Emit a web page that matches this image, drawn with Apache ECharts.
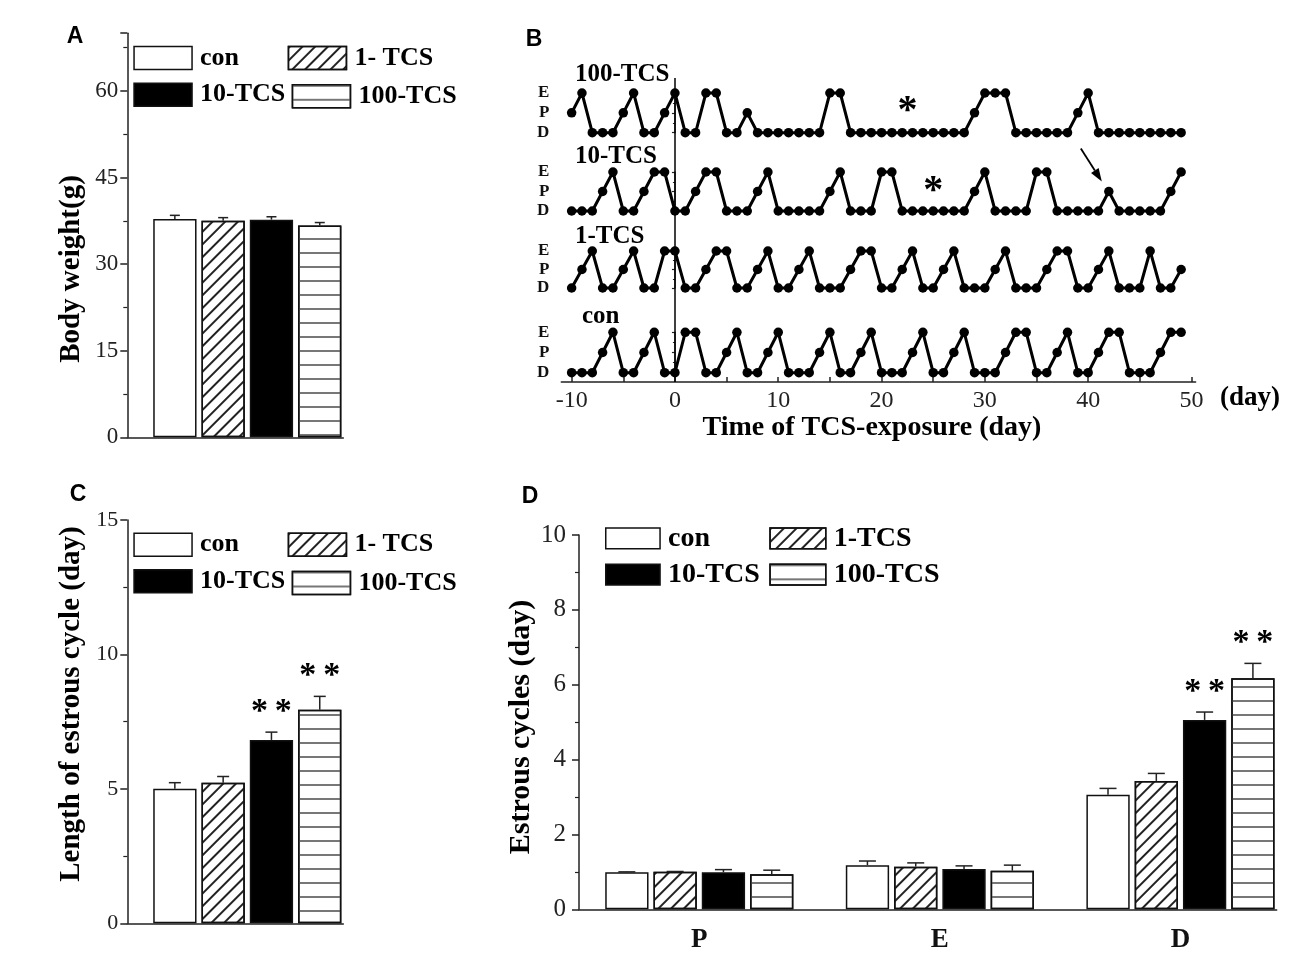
<!DOCTYPE html>
<html>
<head>
<meta charset="utf-8">
<title>TCS exposure and estrous cycle</title>
<script src="https://cdn.jsdelivr.net/npm/echarts@6/dist/echarts.min.js"></script>
<style>
  html, body { margin: 0; padding: 0; background: #fff; }
  #main { width: 1300px; height: 972px; }
</style>
</head>
<body>
<div id="main"></div>
<script>
// ---- data ----
var groupsAC = ['con', '1- TCS', '10-TCS', '100-TCS'];
var groupsD = ['con', '1-TCS', '10-TCS', '100-TCS'];

// A: body weight (g)
var weight = [37.8, 37.5, 37.7, 36.7];
var weightErr = [0.65, 0.55, 0.5, 0.5];

// C: length of estrous cycle (day)
var cycleLen = [5.0, 5.23, 6.82, 7.94];
var cycleLenErr = [0.23, 0.23, 0.29, 0.5];
var cycleLenSig = ['', '', '**', '**'];

// D: estrous cycles (day) per stage
var stages = ['P', 'E', 'D'];
var stageCon = [0.99, 1.18, 3.06];
var stage1 = [1.0, 1.14, 3.43];
var stage10 = [0.99, 1.08, 5.06];
var stage100 = [0.935, 1.03, 6.17];
var stageConErr = [0.01, 0.11, 0.17];
var stage1Err = [0.01, 0.1, 0.2];
var stage10Err = [0.07, 0.08, 0.21];
var stage100Err = [0.11, 0.15, 0.4];
var stage10Sig = ['', '', '**'];
var stage100Sig = ['', '', '**'];

// B: daily smear stage, day -10 .. 49
var days = [-10, -9, -8, -7, -6, -5, -4, -3, -2, -1,
            0, 1, 2, 3, 4, 5, 6, 7, 8, 9,
            10, 11, 12, 13, 14, 15, 16, 17, 18, 19,
            20, 21, 22, 23, 24, 25, 26, 27, 28, 29,
            30, 31, 32, 33, 34, 35, 36, 37, 38, 39,
            40, 41, 42, 43, 44, 45, 46, 47, 48, 49];
var stageLevels = ['D', 'P', 'E'];
var smear100 = 'PEDDDPEDDP EDDEEDDPDD DDDDDEEDDD DDDDDDDDDP EEEDDDDDDP EDDDDDDDDD';
var smear10  = 'DDDPEDDPEE DDPEEDDDPE DDDDDPEDDD EEDDDDDDDP EDDDDEEDDD DDPDDDDDPE';
var smear1   = 'DPEDDPEDDE EDDPEEDDPE DDPEDDDPEE DDPEDDPEDD DPEDDDPEED DPEDDDEDDP';
var smearCon = 'DDDPEDDPED DEEDDPEDDP EDDDPEDDPE DDDPEDDPED DDPEEDDPED DPEEDDDPEE';
var rowNames = ['100-TCS', '10-TCS', '1-TCS', 'con'];
var rowSmears = [smear100, smear10, smear1, smearCon];
// "*" marks and the arrow in B: [row, day, level]
var starMarks = [[0, 22.5, 1.4], [1, 25, 1.35]];
var arrowMark = [1, 42, 1];

// ---- style / layout ----
var SERIF = 'Liberation Serif';
var SANS = 'Liberation Sans';
var INK = '#111';
var barW = 43.3, barGapPx = 5;
var fills = [
  { color: '#fff' },
  { color: '#fff', decal: { symbol: 'rect', symbolSize: 1, dashArrayX: [1, 0], dashArrayY: [1.5, 6.5],
      rotation: -Math.PI / 4, color: '#222', backgroundColor: 'rgba(0,0,0,0)' } },
  { color: '#000' },
  { color: '#fff', decal: { symbol: 'rect', symbolSize: 1, dashArrayX: [1, 0], dashArrayY: [1.2, 12],
      rotation: 0, color: '#777', backgroundColor: 'rgba(0,0,0,0)' } }
];
// B rows: pixel y of E and D levels
var rowBox = [[93, 132.7], [172, 211], [251, 288], [332.3, 372.7]];
var bLeft = 561.3, bWidth = 634.3, bMin = -11, bMax = 50.4;

var chart = echarts.init(document.getElementById('main'), null, { renderer: 'canvas' });

function axisLineStyle() { return { show: true, lineStyle: { color: '#222', width: 1.5 } }; }

function valueY(gi, min, max, interval, fs, margin, hideAbove) {
  return {
    gridIndex: gi, type: 'value', min: min, max: max, interval: interval,
    axisLine: axisLineStyle(),
    axisTick: { show: true, length: 7, lineStyle: { color: '#222', width: 1.5 } },
    minorTick: { show: true, splitNumber: 2, length: 4, lineStyle: { color: '#222', width: 1.2 } },
    splitLine: { show: false },
    axisLabel: { fontFamily: SERIF, fontSize: fs, color: '#222', margin: margin,
      formatter: function (v) { return (hideAbove != null && v > hideAbove) ? '' : String(v); } }
  };
}

function plainX(gi, min, max) {
  return { gridIndex: gi, type: 'value', min: min, max: max,
    axisLine: axisLineStyle(), axisTick: { show: false }, axisLabel: { show: false },
    splitLine: { show: false } };
}

function errBars(xi, rows, capW) {
  // rows: [x, value, err, slot, sig]
  return {
    type: 'custom', xAxisIndex: xi, yAxisIndex: xi, silent: true, z: 5,
    data: rows.map(function (r) { return [r[0], r[1], r[2]]; }),
    renderItem: function (params, api) {
      var r = rows[params.dataIndex];
      var dx = (r[3] - 1.5) * (barW + barGapPx);
      var base = api.coord([api.value(0), api.value(1)]);
      var top = api.coord([api.value(0), api.value(1) + api.value(2)]);
      var x = base[0] + dx;
      var kids = [
        { type: 'line', shape: { x1: x, y1: base[1], x2: x, y2: top[1] }, style: { stroke: '#222', lineWidth: 1.5 } },
        { type: 'line', shape: { x1: x - capW / 2, y1: top[1], x2: x + capW / 2, y2: top[1] }, style: { stroke: '#222', lineWidth: 1.5 } }
      ];
      if (r[4]) {
        kids.push({ type: 'text', x: x, y: top[1] - 20,
          style: { text: r[4].split('').join('\u2009'), font: 'bold 34px "' + SERIF + '"', fill: '#000',
            textAlign: 'center', textVerticalAlign: 'middle', align: 'center', verticalAlign: 'middle' } });
      }
      return { type: 'group', children: kids };
    }
  };
}

function legendItem(name, left, top, fs, w, h) {
  return {
    data: [name], left: left, top: top, padding: 0, itemWidth: w, itemHeight: h,
    icon: 'rect', selectedMode: false, orient: 'horizontal',
    itemStyle: { borderColor: INK, borderWidth: 1.5 },
    textStyle: { fontFamily: SERIF, fontWeight: 'bold', fontSize: fs, color: '#000', lineHeight: h, padding: [0, 0, 0, 3] }
  };
}

function label(text, x, y, font, opts) {
  var el = { type: 'text', x: x, y: y, silent: true,
    style: { text: text, font: font, fill: '#000', textAlign: (opts && opts.align) || 'center', textVerticalAlign: 'middle' } };
  if (opts && opts.rotate) el.rotation = opts.rotate;
  return el;
}

var grid = [
  { left: 127.3, top: 33.2, width: 216, height: 404.1 },   // 0 A
  { left: 127.3, top: 520, width: 216, height: 403.3 },    // 1 C
  { left: 579, top: 535, width: 697.7, height: 374.3 },    // 2 D
  { left: bLeft, top: 78, width: bWidth, height: 304 }     // 3 B overlay
];
rowBox.forEach(function (b) {
  grid.push({ left: bLeft, top: b[0], width: bWidth, height: b[1] - b[0] });
});

var xAxis = [
  plainX(0, 0, 1.8),
  plainX(1, 0, 1.8),
  { gridIndex: 2, type: 'value', min: 0.5, max: 3.4, interval: 0.5,
    axisLine: axisLineStyle(), axisTick: { show: false }, splitLine: { show: false },
    axisLabel: { fontFamily: SERIF, fontWeight: 'bold', fontSize: 27, color: '#111', margin: 17,
      formatter: function (v) { var k = Math.round(v); return Math.abs(v - k) < 1e-6 && stages[k - 1] ? stages[k - 1] : ''; } } },
  { gridIndex: 3, type: 'value', min: bMin, max: bMax,
    axisLine: axisLineStyle(),
    axisTick: { show: true, inside: true, length: 5, customValues: [-10, -5, 0, 5, 10, 15, 20, 25, 30, 35, 40, 45, 50],
      lineStyle: { color: '#222', width: 1.5 } },
    axisLabel: { fontFamily: SERIF, fontSize: 24, color: '#222', margin: 7,
      customValues: [-10, 0, 10, 20, 30, 40, 50] },
    splitLine: { show: false } }
];
var yAxis = [
  valueY(0, 0, 70, 15, 23, 9, 60),
  valueY(1, 0, 15, 5, 22, 9, null),
  valueY(2, 0, 10, 2, 25, 13, null),
  { gridIndex: 3, type: 'value', min: 0, max: 1, show: false }
];
rowBox.forEach(function (b, k) {
  xAxis.push({ gridIndex: 4 + k, type: 'value', min: bMin, max: bMax, show: false });
  yAxis.push({ gridIndex: 4 + k, type: 'value', min: 0, max: 2, interval: 1,
    axisLine: axisLineStyle(),
    axisTick: { show: true, length: 3, lineStyle: { color: '#222', width: 1.2 } },
    minorTick: { show: true, splitNumber: 2, length: 2, lineStyle: { color: '#222', width: 1 } },
    splitLine: { show: false },
    axisLabel: { fontFamily: SERIF, fontWeight: 'bold', fontSize: 17, lineHeight: 12, color: '#111', margin: 12,
      hideOverlap: false, showMinLabel: true, showMaxLabel: true,
      formatter: function (v) { return stageLevels[v] || ''; } } });
});

var series = [];
var pct = (barGapPx / barW * 100).toFixed(1) + '%';
function barSeries(name, xi, data, i) {
  return { type: 'bar', name: name, xAxisIndex: xi, yAxisIndex: xi, data: data,
    barWidth: barW, barGap: pct, silent: true,
    itemStyle: Object.assign({ borderColor: INK, borderWidth: 1.5 }, fills[i]) };
}
// A
groupsAC.forEach(function (g, i) { series.push(barSeries(g, 0, [[1, weight[i]]], i)); });
series.push(errBars(0, weight.map(function (v, i) { return [1, v, weightErr[i], i, '']; }), 10));
// C
groupsAC.forEach(function (g, i) { series.push(barSeries(g, 1, [[1, cycleLen[i]]], i)); });
series.push(errBars(1, cycleLen.map(function (v, i) { return [1, v, cycleLenErr[i], i, cycleLenSig[i]]; }), 12));
// D
var stageVals = [stageCon, stage1, stage10, stage100];
var stageErrs = [stageConErr, stage1Err, stage10Err, stage100Err];
var stageSigs = [['', '', ''], ['', '', ''], stage10Sig, stage100Sig];
var dErrRows = [];
groupsD.forEach(function (g, i) {
  series.push(barSeries(g, 2, stageVals[i].map(function (v, j) { return [j + 1, v]; }), i));
  stageVals[i].forEach(function (v, j) { dErrRows.push([j + 1, v, stageErrs[i][j], i, stageSigs[i][j]]); });
});
series.push(errBars(2, dErrRows, 17));

// B overlay: exposure start line at day 0
series.push({ type: 'line', xAxisIndex: 3, yAxisIndex: 3, data: [], silent: true,
  markLine: { symbol: 'none', silent: true, label: { show: false },
    lineStyle: { color: '#000', width: 1.5, type: 'solid' }, data: [{ xAxis: 0 }] } });
// B rows
rowSmears.forEach(function (s, k) {
  var lv = s.replace(/\s+/g, '').split('');
  series.push({ type: 'line', name: rowNames[k] + ' smear', xAxisIndex: 4 + k, yAxisIndex: 4 + k,
    data: days.map(function (d, j) { return [d, stageLevels.indexOf(lv[j])]; }),
    symbol: 'circle', symbolSize: 9.5, clip: false, silent: true,
    lineStyle: { color: '#000', width: 3 }, itemStyle: { color: '#000' } });
});
// B annotations
starMarks.forEach(function (m) {
  series.push({ type: 'custom', xAxisIndex: 4 + m[0], yAxisIndex: 4 + m[0], silent: true, clip: false,
    data: [[m[1], m[2]]],
    renderItem: function (params, api) {
      var p = api.coord([api.value(0), api.value(1)]);
      return { type: 'text', x: p[0], y: p[1] + 7,
        style: { text: '*', font: 'bold 40px "' + SERIF + '"', fill: '#000',
          textAlign: 'center', textVerticalAlign: 'middle', align: 'center', verticalAlign: 'middle' } };
    } });
});
series.push({ type: 'custom', xAxisIndex: 4 + arrowMark[0], yAxisIndex: 4 + arrowMark[0], silent: true, clip: false,
  data: [[arrowMark[1], arrowMark[2]]],
  renderItem: function (params, api) {
    var p = api.coord([api.value(0), api.value(1)]);
    var x1 = p[0] - 28, y1 = p[1] - 43, x2 = p[0] - 7, y2 = p[1] - 10;
    var ang = Math.atan2(y2 - y1, x2 - x1), L = 13, W = 4.5;
    var bx = x2 - L * Math.cos(ang), by = y2 - L * Math.sin(ang);
    var nx = -Math.sin(ang) * W, ny = Math.cos(ang) * W;
    return { type: 'group', children: [
      { type: 'line', shape: { x1: x1, y1: y1, x2: bx, y2: by }, style: { stroke: '#000', lineWidth: 1.8 } },
      { type: 'polygon', shape: { points: [[x2, y2], [bx + nx, by + ny], [bx - nx, by - ny]] }, style: { fill: '#000' } }
    ] };
  } });

var legend = [
  legendItem('con', 133.3, 45, 26, 58, 23),
  legendItem('1- TCS', 287.7, 45, 26, 58, 23),
  legendItem('10-TCS', 133.3, 81.7, 26, 58, 23),
  legendItem('100-TCS', 291.7, 83.3, 26, 58, 23),
  legendItem('con', 133.3, 531.7, 26, 58, 23),
  legendItem('1- TCS', 287.7, 531.7, 26, 58, 23),
  legendItem('10-TCS', 133.3, 568.3, 26, 58, 23),
  legendItem('100-TCS', 291.7, 570, 26, 58, 23),
  legendItem('con', 605, 524.3, 28, 54.3, 20.7),
  legendItem('1-TCS', 769.3, 524.3, 28, 55.7, 20.7),
  legendItem('10-TCS', 605, 560.7, 28, 54.3, 20.7),
  legendItem('100-TCS', 769.3, 560.7, 28, 55.7, 20.7)
];

var boldSerif = function (px) { return 'bold ' + px + 'px "' + SERIF + '"'; };
var graphic = [
  label('A', 75, 37, 'bold 23px "' + SANS + '"'),
  label('B', 534, 40, 'bold 23px "' + SANS + '"'),
  label('C', 78, 495, 'bold 23px "' + SANS + '"'),
  label('D', 530, 497, 'bold 23px "' + SANS + '"'),
  label('Body weight(g)', 72, 269, boldSerif(29), { rotate: Math.PI / 2 }),
  label('Length of estrous cycle (day)', 72, 704, boldSerif(29), { rotate: Math.PI / 2 }),
  label('Estrous cycles (day)', 521, 727, boldSerif(30), { rotate: Math.PI / 2 }),
  label('Time of TCS-exposure (day)', 872, 428, boldSerif(28)),
  label('(day)', 1220, 398, boldSerif(27), { align: 'left' }),
  label('100-TCS', 575, 75, boldSerif(25), { align: 'left' }),
  label('10-TCS', 575, 157, boldSerif(25), { align: 'left' }),
  label('1-TCS', 575, 237, boldSerif(25), { align: 'left' }),
  label('con', 582, 317, boldSerif(25), { align: 'left' })
];

chart.setOption({
  animation: false,
  backgroundColor: '#fff',
  grid: grid,
  xAxis: xAxis,
  yAxis: yAxis,
  legend: legend,
  graphic: graphic,
  series: series
});
</script>
</body>
</html>
